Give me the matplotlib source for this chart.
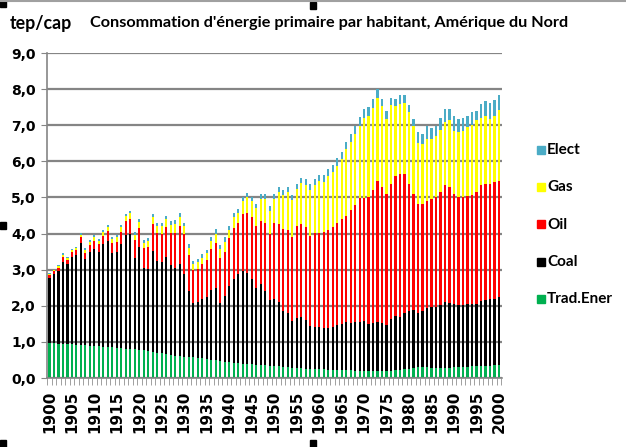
import numpy as np
import matplotlib
matplotlib.use('Agg')
import matplotlib.pyplot as plt
from matplotlib.patches import Rectangle
from matplotlib.font_manager import FontProperties

years = list(range(1900, 2001))

# tep/cap by source
trad = [0.96, 0.96, 0.95, 0.95, 0.94, 0.93, 0.92, 0.92, 0.91, 0.90,
        0.89, 0.88, 0.87, 0.86, 0.85, 0.83, 0.82, 0.81, 0.80, 0.79,
        0.78, 0.77, 0.75, 0.72, 0.70, 0.68, 0.66, 0.64, 0.62, 0.60,
        0.59, 0.58, 0.57, 0.56, 0.55, 0.53, 0.51, 0.49, 0.47, 0.45,
        0.43, 0.42, 0.41, 0.40, 0.39, 0.38, 0.37, 0.36, 0.35, 0.34,
        0.33, 0.32, 0.31, 0.30, 0.29, 0.28, 0.27, 0.26, 0.25, 0.25,
        0.24, 0.24, 0.23, 0.23, 0.22, 0.22, 0.21, 0.21, 0.20, 0.20,
        0.20, 0.19, 0.19, 0.19, 0.19, 0.20, 0.20, 0.21, 0.22, 0.24,
        0.26, 0.28, 0.30, 0.30, 0.30, 0.29, 0.28, 0.28, 0.28, 0.29,
        0.30, 0.31, 0.31, 0.31, 0.32, 0.32, 0.33, 0.34, 0.34, 0.35,
        0.36]
coal = [1.82, 1.92, 2.00, 2.27, 2.21, 2.42, 2.48, 2.83, 2.39, 2.60,
        2.69, 2.60, 2.83, 2.94, 2.60, 2.65, 2.90, 3.14, 3.18, 2.54,
        2.84, 2.28, 2.27, 2.80, 2.55, 2.52, 2.69, 2.48, 2.43, 2.55,
        2.29, 1.82, 1.51, 1.54, 1.63, 1.72, 1.94, 2.01, 1.61, 1.83,
        2.12, 2.33, 2.47, 2.55, 2.53, 2.37, 2.11, 2.24, 2.05, 1.81,
        1.85, 1.78, 1.54, 1.50, 1.29, 1.37, 1.41, 1.34, 1.18, 1.17,
        1.18, 1.14, 1.15, 1.19, 1.24, 1.28, 1.34, 1.31, 1.35, 1.36,
        1.38, 1.31, 1.33, 1.37, 1.33, 1.28, 1.44, 1.51, 1.48, 1.56,
        1.59, 1.60, 1.50, 1.55, 1.64, 1.69, 1.68, 1.74, 1.82, 1.79,
        1.74, 1.70, 1.72, 1.75, 1.72, 1.74, 1.79, 1.82, 1.84, 1.85,
        1.88]
oil = [0.07, 0.07, 0.10, 0.12, 0.11, 0.13, 0.14, 0.15, 0.17, 0.18,
       0.22, 0.22, 0.24, 0.27, 0.28, 0.30, 0.33, 0.39, 0.43, 0.48,
       0.54, 0.55, 0.61, 0.75, 0.77, 0.80, 0.82, 0.90, 0.97, 1.07,
       1.12, 1.02, 0.90, 0.93, 0.97, 1.01, 1.11, 1.24, 1.24, 1.22,
       1.33, 1.40, 1.42, 1.60, 1.64, 1.70, 1.72, 1.75, 1.90, 1.83,
       2.12, 2.16, 2.27, 2.30, 2.32, 2.55, 2.58, 2.58, 2.50, 2.60,
       2.60, 2.66, 2.72, 2.76, 2.84, 2.90, 2.95, 3.12, 3.25, 3.42,
       3.40, 3.50, 3.70, 3.90, 3.76, 3.62, 3.73, 3.88, 3.96, 3.84,
       3.52, 3.22, 3.02, 2.97, 2.96, 2.98, 3.04, 3.12, 3.24, 3.22,
       3.06, 2.99, 2.97, 2.99, 3.02, 3.08, 3.22, 3.21, 3.19, 3.22,
       3.22]
gas = [0.03, 0.03, 0.04, 0.07, 0.06, 0.06, 0.06, 0.07, 0.08, 0.09,
       0.10, 0.10, 0.10, 0.11, 0.11, 0.12, 0.13, 0.14, 0.15, 0.15,
       0.16, 0.14, 0.16, 0.19, 0.18, 0.20, 0.23, 0.23, 0.25, 0.25,
       0.20, 0.18, 0.17, 0.17, 0.18, 0.19, 0.23, 0.26, 0.24, 0.27,
       0.22, 0.32, 0.26, 0.35, 0.44, 0.45, 0.50, 0.62, 0.67, 0.64,
       0.66, 0.88, 0.96, 1.05, 1.03, 1.03, 1.13, 1.16, 1.27, 1.33,
       1.43, 1.40, 1.50, 1.53, 1.58, 1.66, 1.83, 1.90, 1.95, 2.01,
       2.23, 2.26, 2.26, 2.29, 2.24, 2.06, 2.19, 1.94, 1.94, 1.98,
       1.99, 1.87, 1.70, 1.66, 1.72, 1.66, 1.70, 1.74, 1.76, 1.85,
       1.75, 1.80, 1.85, 1.90, 1.94, 2.00, 1.86, 1.89, 1.81, 1.84,
       1.97]
elect = [0.02, 0.02, 0.03, 0.04, 0.04, 0.04, 0.04, 0.05, 0.05, 0.05,
         0.05, 0.05, 0.06, 0.06, 0.06, 0.06, 0.07, 0.07, 0.07, 0.07,
         0.08, 0.08, 0.08, 0.09, 0.09, 0.10, 0.10, 0.10, 0.11, 0.11,
         0.10, 0.10, 0.10, 0.10, 0.10, 0.10, 0.11, 0.12, 0.12, 0.13,
         0.10, 0.11, 0.12, 0.12, 0.12, 0.12, 0.12, 0.13, 0.13, 0.13,
         0.14, 0.14, 0.14, 0.15, 0.15, 0.15, 0.16, 0.16, 0.16, 0.17,
         0.17, 0.18, 0.18, 0.19, 0.20, 0.20, 0.21, 0.22, 0.23, 0.23,
         0.24, 0.24, 0.24, 0.25, 0.22, 0.23, 0.20, 0.18, 0.25, 0.23,
         0.19, 0.21, 0.29, 0.27, 0.36, 0.31, 0.28, 0.32, 0.35, 0.30,
         0.40, 0.38, 0.35, 0.30, 0.36, 0.26, 0.40, 0.41, 0.44, 0.44,
         0.42]

series = [('Trad.Ener', trad, '#00b050'),
          ('Coal', coal, '#000000'),
          ('Oil', oil, '#ff0000'),
          ('Gas', gas, '#ffff00'),
          ('Elect', elect, '#4bacc6')]

title = "Consommation d'énergie primaire par habitant, Amérique du Nord"

W, H = 626, 447
fig = plt.figure(figsize=(W / 100, H / 100), dpi=100)
renderer = fig.canvas.get_renderer()
ax = fig.add_axes([46.7 / W, 1 - 378 / H, 455 / W, 325 / H])

bottom = np.zeros(len(years))
for name, vals, col in series:
    ax.bar(years, vals, bottom=bottom, width=0.5, color=col, linewidth=0, label=name)
    bottom += np.array(vals)

ax.set_xlim(1899.4, 2000.6)
ax.set_ylim(0, 9)
ax.set_yticks(range(0, 10))
ax.set_yticklabels(['%d,0' % v for v in range(0, 10)], fontsize=10, fontweight='bold')
ax.yaxis.grid(True, color='#858585', linewidth=1.6)
ax.set_axisbelow(True)
ax.tick_params(axis='y', length=4, color='#858585', pad=4)

ax.set_xticks(range(1900, 2001, 5))
ax.set_xticklabels([str(y) for y in range(1900, 2001, 5)], rotation=90,
                   fontsize=11, fontweight='bold')
ax.set_xticks(np.arange(1899.5, 2001, 1), minor=True)
ax.tick_params(axis='x', which='major', length=0, pad=9)
ax.tick_params(axis='x', which='minor', length=5, color='#909090')

for s in ['top', 'right']:
    ax.spines[s].set_visible(False)
for s in ['left', 'bottom']:
    ax.spines[s].set_color('#858585')
    ax.spines[s].set_linewidth(1.2)


# pick the narrowest bold face we have, the original uses a condensed one
def text_width(fp, s):
    t = fig.text(0, 0, s, fontproperties=fp)
    w = t.get_window_extent(renderer).width
    t.remove()
    return w


cands = [FontProperties(family='Liberation Sans Narrow', weight='bold', size=12),
         FontProperties(family='DejaVu Sans', stretch='condensed', weight='bold', size=12),
         FontProperties(family='Roboto', weight='bold', size=12),
         FontProperties(family='Lato', weight='bold', size=12),
         FontProperties(family='Liberation Sans', weight='bold', size=12)]
fp = min(cands, key=lambda f: text_width(f, title))


def fitted(x_px, y_px, s, width_px, size_ref=None):
    f = fp.copy()
    if size_ref is None:
        f.set_size(12 * width_px / text_width(fp, s))
    else:
        f.set_size(size_ref)
    return fig.text(x_px / W, 1 - y_px / H, s, fontproperties=f, va='center', ha='left')


fitted(10, 23, 'tep/cap', 62)
fitted(90, 23, title, 475)

# legend, drawn entry by entry
leg_size = 12 * 66 / text_width(fp, 'Trad.Ener')
for i, (name, vals, col) in enumerate(series[::-1]):
    yc = 150 + 37.25 * i
    fig.add_artist(Rectangle((537 / W, 1 - (yc + 4) / H), 8 / W, 8 / H,
                             transform=fig.transFigure, color=col))
    fitted(547, yc, name, None, size_ref=leg_size)

# screenshot frame marks
fig.add_artist(plt.Line2D([0, 1], [1 - 1 / H, 1 - 1 / H], color='#a0a0a0', linewidth=1.5))
for px, py in [(0, 0), (310, 2), (0, 222), (0, 440), (310, 440)]:
    fig.add_artist(Rectangle((px / W, 1 - (py + 7) / H), 6 / W, 7 / H,
                             transform=fig.transFigure, color='black'))

fig.savefig('out.png', dpi=100)
